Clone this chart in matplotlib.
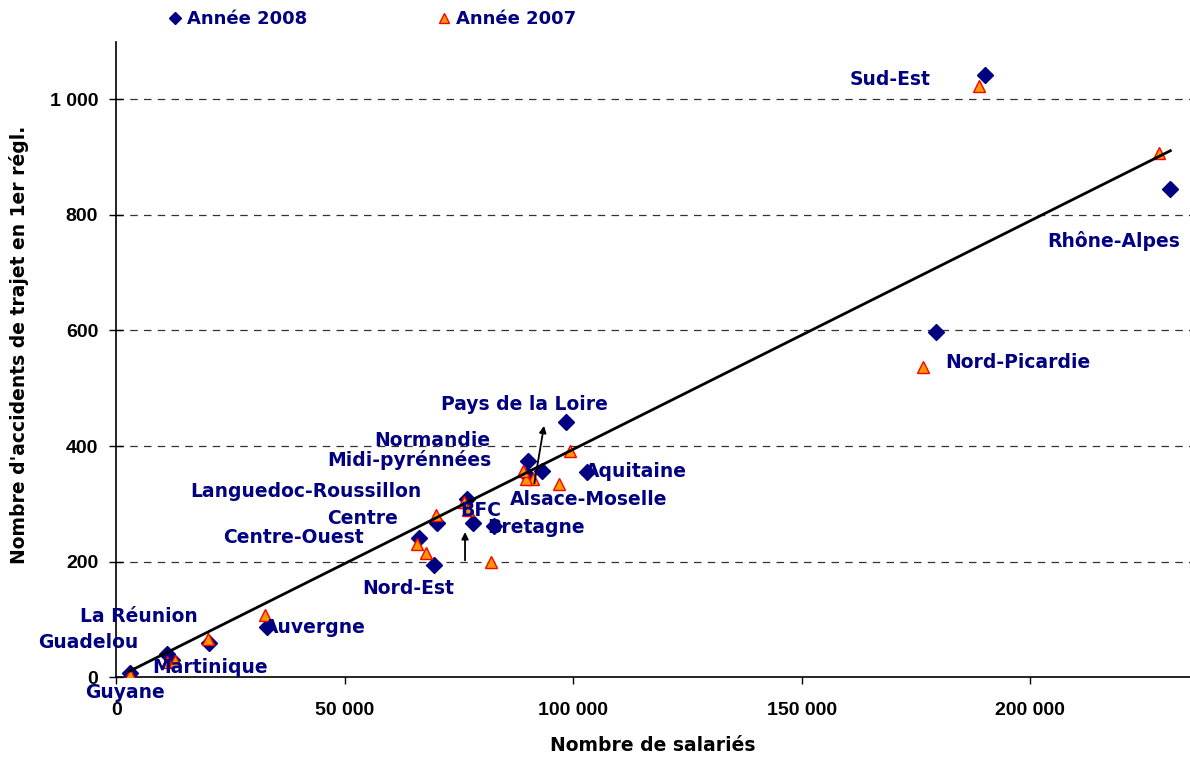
import matplotlib
matplotlib.use("Agg")
import matplotlib.pyplot as plt
from matplotlib.ticker import FuncFormatter, FixedLocator
import numpy as np

plt.rcParams['font.family'] = ['Liberation Sans', 'DejaVu Sans']

regions = ["Sud-Est", "Rhône-Alpes", "Nord-Picardie", "Pays de la Loire", "Aquitaine",
           "Alsace-Moselle", "Normandie", "Midi-pyrénnées", "BFC", "Bretagne", "Centre",
           "Languedoc-Roussillon", "Centre-Ouest", "Nord-Est", "Auvergne", "La Réunion",
           "Guadelou", "Martinique", "Guyane"]

sal_2008 = [190200, 230700, 179400, 98400, 103000, 93200, 90200, 90000, 78000, 82700, 70300,
            76700, 66300, 69500, 33000, 20400, 11200, 12300, 2900]
acc_2008 = [1042, 845, 598, 442, 355, 356, 374, 350, 267, 261, 267,
            309, 241, 194, 86, 59, 40, 30, 7]

sal_2007 = [188900, 228300, 176600, 99200, 97000, 91300, 89600, 89000, 76000, 82000, 70000,
            77000, 65800, 67800, 32600, 20100, 11000, 12900, 2900]
acc_2007 = [1023, 907, 537, 392, 334, 342, 342, 357, 303, 199, 281,
            290, 230, 215, 107, 65, 26, 28, 4]

trend_slope = 0.003956
trend_intercept = -1.4

label_x = [160570, 203730, 181400, 71060, 102590, 86180, 56410, 46120, 75240, 81150, 46120,
           16130, 23360, 53810, 32350, -7950, -17140, 7810, -6850]
label_y = [1035, 755, 544, 472, 356, 308, 410, 375, 289, 259, 275,
           321, 242, 154, 86, 105, 60, 16, -26]

arrows = [((91500, 335), (93620, 435)), ((76330, 202), (76330, 251))]

navy = "#000080"
label_font = ['DejaVu Sans']

fig = plt.figure(figsize=(11.9, 7.63), dpi=100)
ax = fig.add_axes([0.0977, 0.1127, 0.9023, 0.8326])

# trend line
xs = np.array([min(sal_2008 + sal_2007), max(sal_2008 + sal_2007)])
ax.plot(xs, trend_slope * xs + trend_intercept, color="black", lw=2, zorder=4)

ax.plot(sal_2008, acc_2008, linestyle="none", marker="D", markersize=8,
        color=navy, markeredgecolor=navy, zorder=3, label="Année 2008")
ax.plot(sal_2007, acc_2007, linestyle="none", marker="^", markersize=8.5,
        color="#FF9900", markeredgecolor="#FF0000", markeredgewidth=1, zorder=3,
        label="Année 2007")

for name, lx, ly in zip(regions, label_x, label_y):
    ax.text(lx, ly, name, color=navy, fontsize=13.5, fontweight="bold",
            family=label_font, ha="left", va="center", zorder=5, clip_on=False)

for (x0, y0), (x1, y1) in arrows:
    ax.annotate("", xy=(x1, y1), xytext=(x0, y0),
                arrowprops=dict(arrowstyle="-|>", color="black", lw=1.3,
                                mutation_scale=10, shrinkA=0, shrinkB=0), zorder=6)

ax.set_xlim(0, 235000)
ax.set_ylim(0, 1100)
ax.xaxis.set_major_locator(FixedLocator([0, 50000, 100000, 150000, 200000]))
ax.yaxis.set_major_locator(FixedLocator([0, 200, 400, 600, 800, 1000]))
fmt = FuncFormatter(lambda v, p: f"{int(v):,}".replace(",", " "))
ax.xaxis.set_major_formatter(fmt)
ax.yaxis.set_major_formatter(fmt)

for v in [200, 400, 600, 800, 1000]:
    ax.axhline(v, color="#333333", lw=0.9, linestyle=(0, (6, 5)), zorder=1)

for s in ["top", "right"]:
    ax.spines[s].set_visible(False)
for s in ["left", "bottom"]:
    ax.spines[s].set_linewidth(1.2)
ax.tick_params(axis="x", direction="out", length=5, width=1, pad=13, labelsize=14)
ax.tick_params(axis="y", direction="inout", length=10, width=1, pad=8, labelsize=14)
for lab in ax.get_xticklabels() + ax.get_yticklabels():
    lab.set_fontweight("bold")

ax.set_xlabel("Nombre de salariés", fontsize=13.5, fontweight="bold", labelpad=12,
              family=label_font)
ax.set_ylabel("Nombre d'accidents de trajet en 1er régl.", fontsize=13.5,
              fontweight="bold", family=label_font)
ax.yaxis.set_label_coords(-0.081, 0.523)

leg = fig.legend(loc="center left", bbox_to_anchor=(0.126, 0.975), ncol=2,
                 frameon=False, handletextpad=0.15, columnspacing=7.1,
                 prop=dict(weight="bold", size=13, family=label_font), handlelength=1,
                 markerscale=0.8)
for t in leg.get_texts():
    t.set_color(navy)

fig.savefig("out.png", dpi=100)
